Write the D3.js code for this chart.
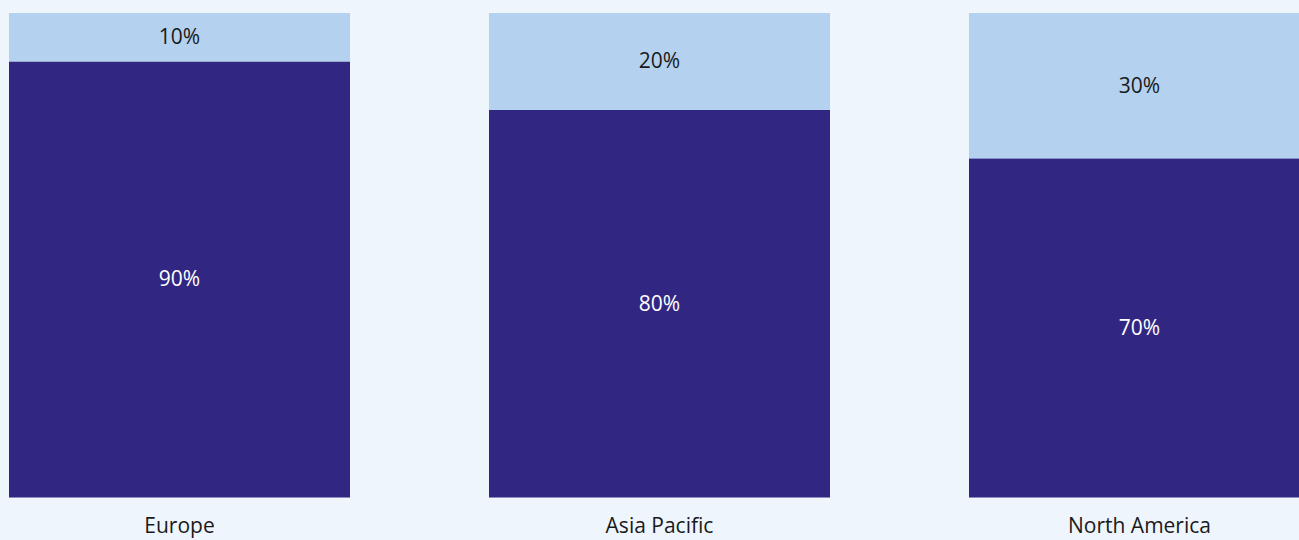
<!DOCTYPE html>
<html>
<head>
<meta charset="utf-8">
<script src="https://cdn.jsdelivr.net/npm/d3@7"></script>
<style>
  html, body { margin: 0; padding: 0; background: #eff5fd; overflow: hidden; }
  svg { display: block; }
</style>
</head>
<body>
<svg id="chart" width="1299" height="540"></svg>
<script>
const categories = ["Europe", "Asia Pacific", "North America"];
const seriesNames = ["Main", "Other"];
const mainValues = [90, 80, 70];
const otherValues = [10, 20, 30];
const colors = ["#312783", "#b4d2ef"];
const textColors = ["#ffffff", "#1a1a1a"];

const W = 1299, H = 540;
const svg = d3.select("#chart");
svg.append("rect").attr("width", W).attr("height", H).attr("fill", "#eff5fd");

const x = d3.scaleBand()
  .domain(categories)
  .range([9, 1310])
  .paddingInner(139 / 480)
  .paddingOuter(0);

const y = d3.scaleLinear().domain([0, 100]).range([497.5, 13]);

const rows = categories.map((c, i) => ({ cat: c, Main: mainValues[i], Other: otherValues[i] }));
const stacked = d3.stack().keys(seriesNames)(rows);

const g = svg.append("g");
stacked.forEach((layer, li) => {
  const lg = g.append("g");
  lg.selectAll("rect").data(layer).join("rect")
    .attr("x", d => x(d.data.cat))
    .attr("width", x.bandwidth())
    .attr("y", d => y(d[1]))
    .attr("height", d => y(d[0]) - y(d[1]))
    .attr("fill", colors[li]);
  lg.selectAll("text").data(layer).join("text")
    .attr("x", d => x(d.data.cat) + x.bandwidth() / 2)
    .attr("y", d => (y(d[0]) + y(d[1])) / 2 - 1)
    .attr("text-anchor", "middle")
    .attr("dominant-baseline", "central")
    .attr("font-family", "'Open Sans', sans-serif")
    .attr("font-size", 21)
    .attr("fill", textColors[li])
    .text(d => (d[1] - d[0]) + "%");
});

const xAxis = d3.axisBottom(x).tickSize(0).tickPadding(0);
const ax = svg.append("g").attr("transform", `translate(0, ${y(0)})`).call(xAxis);
ax.select(".domain").remove();
ax.selectAll("text")
  .attr("y", 28)
  .attr("dy", "0.35em")
  .attr("font-family", "'Open Sans', sans-serif")
  .attr("font-size", 21)
  .attr("fill", "#1a1a1a");
</script>
</body>
</html>
